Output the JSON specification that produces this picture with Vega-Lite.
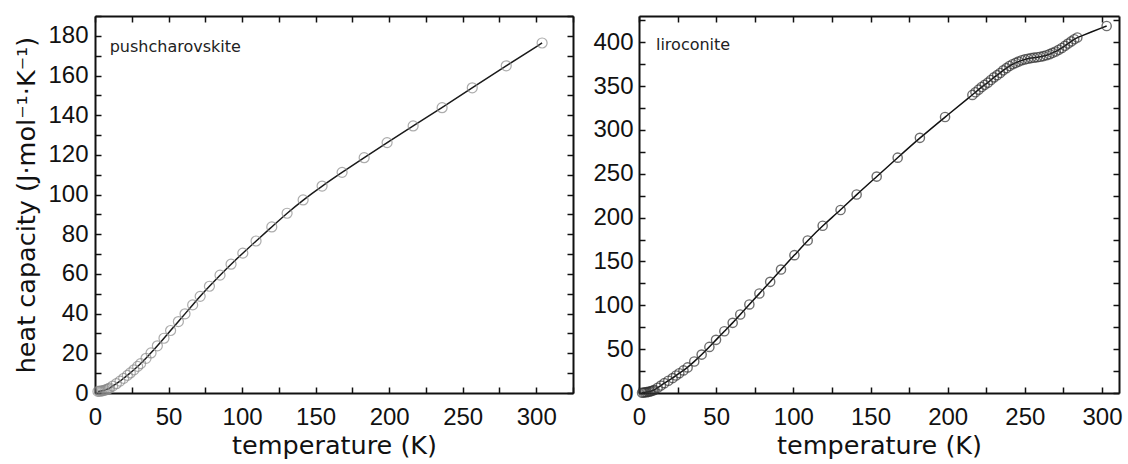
{
  "$schema": "https://vega.github.io/schema/vega-lite/v6.json",
  "background": "white",
  "padding": {"left": 14, "top": 4, "right": 10, "bottom": 0},
  "autosize": {"type": "pad"},
  "spacing": 18,
  "config": {
    "view": {"stroke": null},
    "axis": {
      "grid": false,
      "domainColor": "#111111",
      "domainWidth": 2,
      "tickColor": "#111111",
      "tickWidth": 1.5,
      "tickSize": -6,
      "labelFont": "Liberation Sans",
      "labelFontSize": 24,
      "labelColor": "#111111",
      "labelFlush": false,
      "labelOverlap": false,
      "titleFont": "DejaVu Sans",
      "titleFontSize": 25.5,
      "titleFontWeight": "normal",
      "titleColor": "#111111"
    }
  },
  "datasets": {
    "push": [
      {"T": 2, "Cp": 0.8}, {"T": 3, "Cp": 0.9}, {"T": 4, "Cp": 1.0}, {"T": 5, "Cp": 1.1},
      {"T": 6, "Cp": 1.3}, {"T": 7, "Cp": 1.5}, {"T": 8, "Cp": 1.8}, {"T": 9, "Cp": 2.1},
      {"T": 10, "Cp": 2.5}, {"T": 12, "Cp": 3.5}, {"T": 14.5, "Cp": 4.7}, {"T": 17, "Cp": 6.0},
      {"T": 19.5, "Cp": 7.4}, {"T": 22, "Cp": 8.9}, {"T": 24, "Cp": 10.1}, {"T": 26.5, "Cp": 11.7},
      {"T": 29, "Cp": 13.4}, {"T": 31, "Cp": 14.8}, {"T": 34.7, "Cp": 17.5}, {"T": 38.1, "Cp": 20.2},
      {"T": 42.4, "Cp": 23.8}, {"T": 46.9, "Cp": 27.6}, {"T": 51.4, "Cp": 31.5}, {"T": 56.7, "Cp": 36.0},
      {"T": 61.2, "Cp": 39.9}, {"T": 66.4, "Cp": 44.4}, {"T": 71.5, "Cp": 48.7}, {"T": 77.8, "Cp": 53.8},
      {"T": 85, "Cp": 59.4}, {"T": 92.5, "Cp": 64.9}, {"T": 100.5, "Cp": 70.5}, {"T": 109.5, "Cp": 76.6},
      {"T": 120.2, "Cp": 83.7}, {"T": 130.6, "Cp": 90.6}, {"T": 141.5, "Cp": 97.3}, {"T": 154.4, "Cp": 104.3},
      {"T": 168, "Cp": 111.2}, {"T": 183, "Cp": 118.6}, {"T": 198.6, "Cp": 126.2}, {"T": 216.3, "Cp": 134.6},
      {"T": 236, "Cp": 143.8}, {"T": 256.5, "Cp": 153.8}, {"T": 279.6, "Cp": 164.9}, {"T": 304, "Cp": 176.4}
    ],
    "liro": [
      {"T": 2, "Cp": 0.3}, {"T": 3, "Cp": 0.5}, {"T": 4, "Cp": 0.8}, {"T": 5, "Cp": 1.0},
      {"T": 6, "Cp": 1.3}, {"T": 7, "Cp": 1.7}, {"T": 8, "Cp": 2.2}, {"T": 9, "Cp": 2.8},
      {"T": 10, "Cp": 3.5}, {"T": 12.1, "Cp": 6.0}, {"T": 14.2, "Cp": 8.5}, {"T": 16.4, "Cp": 11.2},
      {"T": 19, "Cp": 14.0}, {"T": 21.8, "Cp": 17.0}, {"T": 24, "Cp": 20.0}, {"T": 26.1, "Cp": 22.6},
      {"T": 28.8, "Cp": 25.8}, {"T": 31.5, "Cp": 29.2}, {"T": 35.8, "Cp": 35.9}, {"T": 40.6, "Cp": 43.8},
      {"T": 45.6, "Cp": 52.6}, {"T": 49.9, "Cp": 60.6}, {"T": 55.3, "Cp": 70.4}, {"T": 60.7, "Cp": 80.0},
      {"T": 65.6, "Cp": 89.5}, {"T": 71.5, "Cp": 101.0}, {"T": 78, "Cp": 113.5}, {"T": 85, "Cp": 126.8},
      {"T": 92, "Cp": 140.8}, {"T": 100.7, "Cp": 157.2}, {"T": 109.3, "Cp": 174.0}, {"T": 119, "Cp": 190.8},
      {"T": 130.6, "Cp": 208.7}, {"T": 141, "Cp": 226.4}, {"T": 154, "Cp": 246.8}, {"T": 167.6, "Cp": 268.4},
      {"T": 182, "Cp": 291.0}, {"T": 198.3, "Cp": 314.8},
      {"T": 216, "Cp": 340.0}, {"T": 218, "Cp": 343.0}, {"T": 220, "Cp": 346.0}, {"T": 222, "Cp": 349.0},
      {"T": 224, "Cp": 351.5}, {"T": 226, "Cp": 354.0}, {"T": 228, "Cp": 357.0}, {"T": 230, "Cp": 360.0},
      {"T": 232, "Cp": 362.5}, {"T": 234, "Cp": 365.0}, {"T": 236, "Cp": 368.0}, {"T": 238, "Cp": 370.5},
      {"T": 240, "Cp": 373.0}, {"T": 242, "Cp": 375.0}, {"T": 244, "Cp": 376.5}, {"T": 246, "Cp": 378.0},
      {"T": 248, "Cp": 379.5}, {"T": 250, "Cp": 380.5}, {"T": 252, "Cp": 381.3}, {"T": 254, "Cp": 382.0},
      {"T": 256, "Cp": 382.5}, {"T": 258, "Cp": 383.0}, {"T": 260, "Cp": 383.5}, {"T": 262, "Cp": 384.3},
      {"T": 264, "Cp": 385.3}, {"T": 266, "Cp": 386.5}, {"T": 268, "Cp": 388.0}, {"T": 270, "Cp": 389.5},
      {"T": 272, "Cp": 391.5}, {"T": 274, "Cp": 393.5}, {"T": 276, "Cp": 396.0}, {"T": 278, "Cp": 398.5},
      {"T": 280, "Cp": 401.0}, {"T": 282, "Cp": 403.5}, {"T": 284, "Cp": 405.5}, {"T": 303, "Cp": 418.6}
    ]
  },
  "hconcat": [
    {
      "width": 478,
      "height": 377,
      "layer": [
        {
          "data": {"name": "push"},
          "mark": {"type": "line", "interpolate": "basis", "color": "#1a1a1a", "strokeWidth": 1.5},
          "encoding": {
            "x": {"field": "T", "type": "quantitative", "scale": {"domain": [0, 325], "nice": false},
              "axis": {"orient": "bottom", "values": [0, 25, 50, 75, 100, 125, 150, 175, 200, 225, 250, 275, 300, 325],
                "labelExpr": "datum.value % 50 === 0 ? datum.label : ''", "title": "temperature (K)", "labelPadding": 18, "titlePadding": 4}},
            "y": {"field": "Cp", "type": "quantitative", "scale": {"domain": [0, 190], "nice": false},
              "axis": {"orient": "left", "values": [0, 10, 20, 30, 40, 50, 60, 70, 80, 90, 100, 110, 120, 130, 140, 150, 160, 170, 180, 190],
                "labelExpr": "datum.value % 20 === 0 ? datum.label : ''", "title": "heat capacity (J·mol⁻¹·K⁻¹)", "labelPadding": 13, "titlePadding": 8}}
          }
        },
        {
          "data": {"name": "push"},
          "mark": {"type": "point", "shape": "circle", "filled": false, "size": 100, "color": "#8a8a8a", "strokeWidth": 1.2},
          "encoding": {
            "x": {"field": "T", "type": "quantitative", "scale": {"domain": [0, 325], "nice": false},
              "axis": {"orient": "top", "values": [0, 25, 50, 75, 100, 125, 150, 175, 200, 225, 250, 275, 300, 325], "labels": false, "title": null}},
            "y": {"field": "Cp", "type": "quantitative", "scale": {"domain": [0, 190], "nice": false},
              "axis": {"orient": "right", "values": [0, 10, 20, 30, 40, 50, 60, 70, 80, 90, 100, 110, 120, 130, 140, 150, 160, 170, 180, 190], "labels": false, "title": null}}
          }
        },
        {
          "data": {"values": [{"sample": "pushcharovskite"}]},
          "mark": {"type": "text", "align": "left", "baseline": "alphabetic", "font": "DejaVu Sans", "fontSize": 16, "color": "#222222"},
          "encoding": {
            "text": {"field": "sample"},
            "x": {"datum": 10, "type": "quantitative", "axis": null},
            "y": {"datum": 172, "type": "quantitative", "axis": null}
          }
        }
      ],
      "resolve": {"axis": {"x": "independent", "y": "independent"}}
    },
    {
      "width": 480,
      "height": 377,
      "layer": [
        {
          "data": {"name": "liro"},
          "mark": {"type": "line", "interpolate": "basis", "color": "#111111", "strokeWidth": 1.5},
          "encoding": {
            "x": {"field": "T", "type": "quantitative", "scale": {"domain": [0, 311], "nice": false},
              "axis": {"orient": "bottom", "values": [0, 25, 50, 75, 100, 125, 150, 175, 200, 225, 250, 275, 300],
                "labelExpr": "datum.value % 50 === 0 ? datum.label : ''", "title": "temperature (K)", "labelPadding": 18, "titlePadding": 4}},
            "y": {"field": "Cp", "type": "quantitative", "scale": {"domain": [0, 430], "nice": false},
              "axis": {"orient": "left", "values": [0, 25, 50, 75, 100, 125, 150, 175, 200, 225, 250, 275, 300, 325, 350, 375, 400, 425],
                "labelExpr": "datum.value % 50 === 0 ? datum.label : ''", "title": null, "labelPadding": 12}}
          }
        },
        {
          "data": {"name": "liro"},
          "mark": {"type": "point", "shape": "circle", "filled": false, "size": 85, "color": "#333333", "strokeWidth": 1.4},
          "encoding": {
            "x": {"field": "T", "type": "quantitative", "scale": {"domain": [0, 311], "nice": false},
              "axis": {"orient": "top", "values": [0, 25, 50, 75, 100, 125, 150, 175, 200, 225, 250, 275, 300], "labels": false, "title": null}},
            "y": {"field": "Cp", "type": "quantitative", "scale": {"domain": [0, 430], "nice": false},
              "axis": {"orient": "right", "values": [0, 25, 50, 75, 100, 125, 150, 175, 200, 225, 250, 275, 300, 325, 350, 375, 400, 425], "labels": false, "title": null}}
          }
        },
        {
          "data": {"values": [{"sample": "liroconite"}]},
          "mark": {"type": "text", "align": "left", "baseline": "alphabetic", "font": "DejaVu Sans", "fontSize": 16, "color": "#222222"},
          "encoding": {
            "text": {"field": "sample"},
            "x": {"datum": 11, "type": "quantitative", "axis": null},
            "y": {"datum": 391, "type": "quantitative", "axis": null}
          }
        }
      ],
      "resolve": {"axis": {"x": "independent", "y": "independent"}}
    }
  ]
}
